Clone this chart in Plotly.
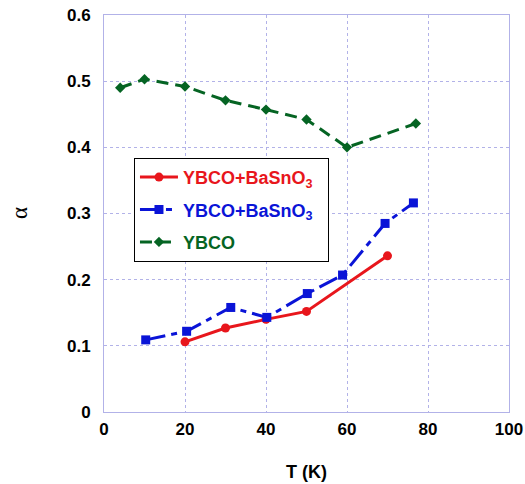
import plotly.graph_objects as go

# Data
t_red = [20, 30, 40, 50, 70]
a_red = [0.106, 0.127, 0.140, 0.152, 0.236]

t_blue = [10.3, 20.4, 31.3, 40.2, 50.2, 58.9, 69.4, 76.4]
a_blue = [0.109, 0.122, 0.158, 0.143, 0.179, 0.207, 0.285, 0.316]

t_green = [4, 10, 20, 30, 40, 50, 60, 77]
a_green = [0.490, 0.503, 0.492, 0.471, 0.457, 0.442, 0.400, 0.436]

x_ticks = [0, 20, 40, 60, 80, 100]
y_ticks = [0, 0.1, 0.2, 0.3, 0.4, 0.5, 0.6]
y_ticktext = ["0", "0.1", "0.2", "0.3", "0.4", "0.5", "0.6"]

RED = "rgb(232,22,28)"
BLUE = "rgb(10,20,215)"
GREEN = "rgb(5,100,35)"
GRID = "rgb(178,178,232)"
FONT = "Liberation Sans, Arial, sans-serif"

fig = go.Figure()
fig.add_trace(go.Scatter(
    x=t_red, y=a_red, mode="lines+markers", legendgroup="a",
    name=f'<span style="color:{RED}">YBCO+BaSnO<sub>3</sub></span>&nbsp;&nbsp;',
    line=dict(color=RED, width=3),
    marker=dict(symbol="circle", size=9, color=RED),
))
fig.add_trace(go.Scatter(
    x=t_blue, y=a_blue, mode="lines+markers", legendgroup="b",
    name=f'<span style="color:{BLUE}">YBCO+BaSnO<sub>3</sub></span>&nbsp;&nbsp;',
    line=dict(color=BLUE, width=3, dash="20px,6px,6px,6px"),
    marker=dict(symbol="square", size=9, color=BLUE),
))
fig.add_trace(go.Scatter(
    x=t_green, y=a_green, mode="lines+markers", legendgroup="c",
    name=f'<span style="color:{GREEN}">YBCO</span>',
    line=dict(color=GREEN, width=3, dash="12px,7px"),
    marker=dict(symbol="diamond", size=8, color=GREEN),
))

fig.update_layout(
    width=525, height=484,
    margin=dict(l=104, r=16, t=15, b=72),
    paper_bgcolor="white", plot_bgcolor="white",
    font=dict(family=FONT, size=17, color="black"),
    showlegend=True,
    legend=dict(
        x=0.074, y=0.64, xanchor="left", yanchor="top",
        bordercolor="black", borderwidth=1, bgcolor="white",
        font=dict(family=FONT, size=18, weight="bold"),
        itemwidth=38, traceorder="grouped", tracegroupgap=6,
    ),
)
fig.update_xaxes(
    range=[0, 100], tickvals=x_ticks, showgrid=True, gridcolor=GRID, gridwidth=1,
    griddash="dot", showline=True, linecolor=GRID, linewidth=1, mirror=True,
    zeroline=False, ticks="", ticklabelstandoff=2, automargin=False,
    ticklabeloverflow="allow",
    tickfont=dict(family=FONT, size=17, weight="bold"),
)
fig.update_yaxes(
    range=[0, 0.6], tickvals=y_ticks, ticktext=y_ticktext, showgrid=True,
    gridcolor=GRID, gridwidth=1, griddash="dot", showline=True, linecolor=GRID,
    linewidth=1, mirror=True, zeroline=False, ticks="", ticklabelstandoff=9,
    automargin=False, ticklabeloverflow="allow",
    tickfont=dict(family=FONT, size=17, weight="bold"),
)
fig.add_annotation(text="T (K)", xref="paper", yref="paper", x=0.5, y=-0.151,
                   xanchor="center", yanchor="middle", showarrow=False,
                   font=dict(family=FONT, size=18, weight="bold"))
fig.add_annotation(text="α", xref="paper", yref="paper", x=-0.21, y=0.501,
                   xanchor="center", yanchor="middle", showarrow=False,
                   textangle=-90,
                   font=dict(family="Liberation Serif, Times New Roman, serif", size=23))

# remove the browser's default 8px body margin so the figure fills the window
fig.write_html("out.html", config={"displayModeBar": False},
               post_script="document.body.style.margin='0px';")
